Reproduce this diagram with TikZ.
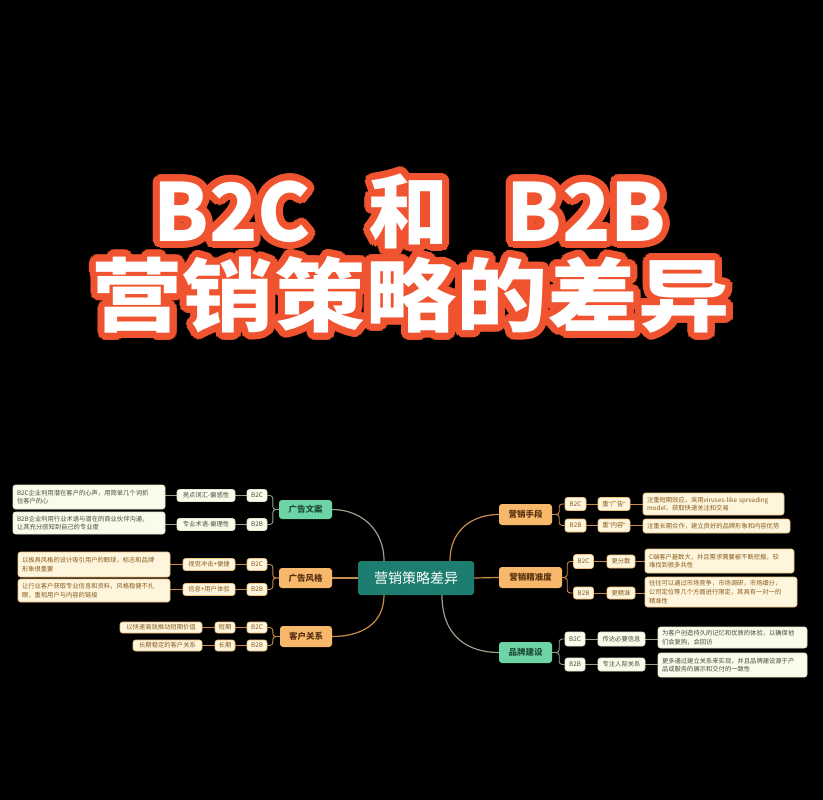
\documentclass[tikz,border=0pt]{standalone}
\usepackage{fontspec}
\setmainfont{Noto Sans CJK SC}
\newfontfamily\cjk{Noto Sans CJK SC}
\newfontfamily\qf{Liberation Sans}
\definecolor{orMain}{HTML}{F8B86B}
\definecolor{orText}{HTML}{5A3110}
\definecolor{grMain}{HTML}{6DD5A5}
\definecolor{grText}{HTML}{1F4D3A}
\definecolor{tealC}{HTML}{1D7E70}
\definecolor{creamO}{HTML}{FDF6DC}
\definecolor{creamG}{HTML}{FAFBEA}
\definecolor{bordO}{HTML}{F0C27A}
\definecolor{bordG}{HTML}{E3EAD0}
\definecolor{leafTO}{HTML}{8B5A1E}
\definecolor{leafTG}{HTML}{44503F}
\definecolor{connO}{HTML}{C98B4C}
\definecolor{connG}{HTML}{95A28A}
\definecolor{ttlRed}{HTML}{F0532F}
\pgfdeclarelayer{back}
\pgfdeclarelayer{bg}
\pgfsetlayers{back,bg,main}
\begin{document}
\begin{tikzpicture}[x=1pt,y=-1pt,
  base/.style={rounded corners=3pt, inner sep=0pt, align=center},
  mainO/.style={base, fill=orMain, text=orText, font=\fontsize{8.5}{10}\selectfont\bfseries},
  mainG/.style={base, fill=grMain, text=grText, font=\fontsize{8.5}{10}\selectfont\bfseries},
  tagO/.style={base, rounded corners=2.5pt, fill=creamO, draw=bordO, line width=0.6pt, text=leafTO, font=\fontsize{6.3}{8.6}\selectfont},
  tagG/.style={base, rounded corners=2.5pt, fill=creamG, draw=bordG, line width=0.6pt, text=leafTG, font=\fontsize{6.3}{8.6}\selectfont},
  leafO/.style={tagO, align=left, inner xsep=4pt},
  leafG/.style={tagG, align=left, inner xsep=4pt},
  sz/.style 2 args={minimum width=#1pt, minimum height=#2pt},
  cO/.style={draw=connO, line width=0.9pt, rounded corners=3pt},
  cG/.style={draw=connG, line width=0.9pt, rounded corners=3pt},
  curveO/.style={draw=connO, line width=1.2pt},
  curveG/.style={draw=connG, line width=1.2pt},
  ttl/.style={inner sep=0pt, font=\cjk\fontsize{80}{80}\selectfont\bfseries}
]
\begin{pgfonlayer}{back}
\fill[black] (0,0) rectangle (823,800);
\end{pgfonlayer}
\useasboundingbox (0,0) rectangle (823,800);

% ---------- title ----------
\newcommand\lineA{B2C\hspace{0.72em}和\hspace{0.72em}B2B}
\newcommand\lineB{\scalebox{1.14}[1]{营销策略的差异}}
\foreach \a in {0,15,...,345}{
  \node[ttl, text=ttlRed, shift={(\a:7pt)}] (tA\a) at (410,211) {\lineA};
  \node[ttl, text=ttlRed, shift={(\a:3.5pt)}] (tB\a) at (410,211) {\lineA};
  \node[ttl, text=ttlRed, shift={(\a:7pt)}] (tC\a) at (411,295) {\lineB};
  \node[ttl, text=ttlRed, shift={(\a:3.5pt)}] (tD\a) at (411,295) {\lineB};
}
\node[ttl, text=white] (title1) at (410,211) {\lineA};
\node[ttl, text=white] (title2) at (411,295) {\lineB};

% ---------- center ----------
\node[base, fill=tealC, text=white, sz={116}{34}, font=\fontsize{14}{16}\selectfont] (ctr) at (416,578) {营销策略差异};

% ---------- main topics ----------
\node[mainG, sz={53}{19}] (t1) at (305.5,509.5) {广告文案};
\node[mainO, sz={53}{20}] (t2) at (305.5,578) {广告风格};
\node[mainO, sz={52}{21}] (t3) at (306,636.5) {客户关系};
\node[mainO, sz={53}{21}] (r1) at (525.5,514.5) {营销手段};
\node[mainO, sz={63}{21}] (r2) at (530.5,577.5) {营销精准度};
\node[mainG, sz={53}{21}] (r3) at (525.5,652.5) {品牌建设};

% ---------- left: 广告文案 ----------
\node[tagG, sz={20}{12}] (a1) at (257,495.5) {B2C};
\node[tagG, sz={20}{12}] (a2) at (257,524.5) {B2B};
\node[tagG, sz={58}{12}] (m1) at (206,495.5) {亮点词汇-偏感性};
\node[tagG, sz={58}{12}] (m2) at (206,524.5) {专业术语-偏理性};
\node[leafG, text width=144pt, minimum height=24pt] (l1) at (89,497) {B2C企业利用潜在客户的心声，用简单几个词抓\\住客户的心};
\node[leafG, text width=144pt, minimum height=22pt] (l2) at (89,523) {B2B企业利用行业术语与潜在的商业伙伴沟通，\\让其充分感知到自己的专业度};

% ---------- left: 广告风格 ----------
\node[tagO, sz={20}{12}] (b1) at (257,564.5) {B2C};
\node[tagO, sz={20}{12}] (b2) at (257,589.5) {B2B};
\node[tagO, sz={52}{12}] (m3) at (209,564.5) {视觉冲击+便捷};
\node[tagO, sz={52}{12}] (m4) at (209,589.5) {信息+用户体验};
\node[leafO, text width=144pt, minimum height=25pt] (l3) at (94,564.5) {以极具风格的设计吸引用户的眼球，标志和品牌\\形象很重要};
\node[leafO, text width=144pt, minimum height=23pt] (l4) at (94,590.5) {让行业客户获取专业信息和资料，风格稳健不扎\\眼，重视用户与内容的链接};

% ---------- left: 客户关系 ----------
\node[tagO, sz={20}{11}] (c1) at (257,627.5) {B2C};
\node[tagO, sz={20}{11}] (c2) at (257,645.5) {B2B};
\node[tagO, sz={20}{11}] (m5) at (225,627.5) {短期};
\node[tagO, sz={20}{11}] (m6) at (225,645.5) {长期};
\node[tagO, sz={82}{11}] (l5) at (161,627.5) {以快速高效推动短期价值};
\node[tagO, sz={69}{11}] (l6) at (167.5,645.5) {长期稳定的客户关系};

% ---------- right: 营销手段 ----------
\node[tagO, sz={21}{13}] (d1) at (575.5,504) {B2C};
\node[tagO, sz={21}{13}] (d2) at (575.5,525.5) {B2B};
\node[tagO, sz={32}{13}] (m7) at (614,504) {重{\qf"}广告{\qf"}};
\node[tagO, sz={32}{13}] (m8) at (614,525.5) {重{\qf"}内容{\qf"}};
\node[leafO, text width=133pt, minimum height=22pt] (l7) at (713.5,504) {注重短期效应，采用viruses-like spreading\\model，获取快速关注和交易};
\node[leafO, text width=139pt, minimum height=14pt] (l8) at (716.5,526) {注重长期合作，建立良好的品牌形象和内容优势};

% ---------- right: 营销精准度 ----------
\node[tagO, sz={20}{14}] (e1) at (583.5,561.5) {B2C};
\node[tagO, sz={20}{12}] (e2) at (583.5,593) {B2B};
\node[tagO, sz={28}{13}] (m9) at (621,561.5) {更分散};
\node[tagO, sz={28}{12}] (m10) at (621,593) {更精准};
\node[leafO, text width=141pt, minimum height=24pt] (l9) at (719.5,561) {C端客户基数大，并且需求需要被不断挖掘，较\\难找到很多共性};
\node[leafO, text width=144pt, minimum height=30pt] (l10) at (721,592) {往往可以通过市场竞争，市场调研，市场细分，\\公司定位等几个方面进行限定，其具有一对一的\\精准性};

% ---------- right: 品牌建设 ----------
\node[tagG, sz={20}{14}] (f1) at (575,639) {B2C};
\node[tagG, sz={20}{13}] (f2) at (575,664.5) {B2B};
\node[tagG, sz={47}{14}] (m11) at (621.5,639) {传达必要信息};
\node[tagG, sz={47}{13}] (m12) at (621.5,664.5) {专注人际关系};
\node[leafG, text width=141pt, minimum height=21pt] (l11) at (732.5,637.5) {为客户创造持久的记忆和优质的体验，以确保他\\们会复购，会回访};
\node[leafG, text width=141pt, minimum height=24pt] (l12) at (732.5,665) {更多通过建立关系来实现，并且品牌建设源于产\\品或服务的展示和交付的一致性};

% ---------- connectors (behind nodes) ----------
\begin{pgfonlayer}{bg}
% center to main topics
\draw[curveG] ([xshift=-32pt]ctr.north) .. controls ([xshift=-32pt,yshift=32pt]ctr.north) and ([xshift=28pt]t1.east) .. (t1.east);
\draw[curveO] (ctr.west) -- (t2.east);
\draw[curveO] ([xshift=-32pt]ctr.south) .. controls ([xshift=-32pt,yshift=-28pt]ctr.south) and ([xshift=30pt]t3.east) .. (t3.east);
\draw[curveO] ([xshift=34pt]ctr.north) .. controls ([xshift=34pt,yshift=32pt]ctr.north) and ([xshift=-25pt]r1.west) .. (r1.west);
\draw[curveO] (ctr.east) -- (r2.west);
\draw[curveG] ([xshift=26pt]ctr.south) .. controls ([xshift=26pt,yshift=-42pt]ctr.south) and ([xshift=-30pt]r3.west) .. (r3.west);
% 广告文案
\draw[cG] (t1.west) -- ++(-6,0) |- (a1.east);
\draw[cG] (t1.west) -- ++(-6,0) |- (a2.east);
\draw[cG] (a1) -- (m1);
\draw[cG] (a2) -- (m2);
\draw[cG] (m1.west) -- (m1.west -| l1.east);
\draw[cG] (m2.west) -- (m2.west -| l2.east);
% 广告风格
\draw[cO] (t2.west) -- ++(-6,0) |- (b1.east);
\draw[cO] (t2.west) -- ++(-6,0) |- (b2.east);
\draw[cO] (b1) -- (m3);
\draw[cO] (b2) -- (m4);
\draw[cO] (m3.west) -- (m3.west -| l3.east);
\draw[cO] (m4.west) -- (m4.west -| l4.east);
% 客户关系
\draw[cO] (t3.west) -- ++(-7,0) |- (c1.east);
\draw[cO] (t3.west) -- ++(-7,0) |- (c2.east);
\draw[cO] (c1) -- (m5);
\draw[cO] (c2) -- (m6);
\draw[cO] (m5) -- (l5);
\draw[cO] (m6) -- (l6);
% 营销手段
\draw[cO] (r1.east) -- ++(7,0) |- (d1.west);
\draw[cO] (r1.east) -- ++(7,0) |- (d2.west);
\draw[cO] (d1) -- (m7);
\draw[cO] (d2) -- (m8);
\draw[cO] (m7.east) -- (m7.east -| l7.west);
\draw[cO] (m8.east) -- (m8.east -| l8.west);
% 营销精准度
\draw[cO] (r2.east) -- ++(5,0) |- (e1.west);
\draw[cO] (r2.east) -- ++(5,0) |- (e2.west);
\draw[cO] (e1) -- (m9);
\draw[cO] (e2) -- (m10);
\draw[cO] (m9.east) -- (m9.east -| l9.west);
\draw[cO] (m10.east) -- (m10.east -| l10.west);
% 品牌建设
\draw[cG] (r3.east) -- ++(7,0) |- (f1.west);
\draw[cG] (r3.east) -- ++(7,0) |- (f2.west);
\draw[cG] (f1) -- (m11);
\draw[cG] (f2) -- (m12);
\draw[cG] (m11.east) -- (m11.east -| l11.west);
\draw[cG] (m12.east) -- (m12.east -| l12.west);
\end{pgfonlayer}

\end{tikzpicture}
\end{document}
